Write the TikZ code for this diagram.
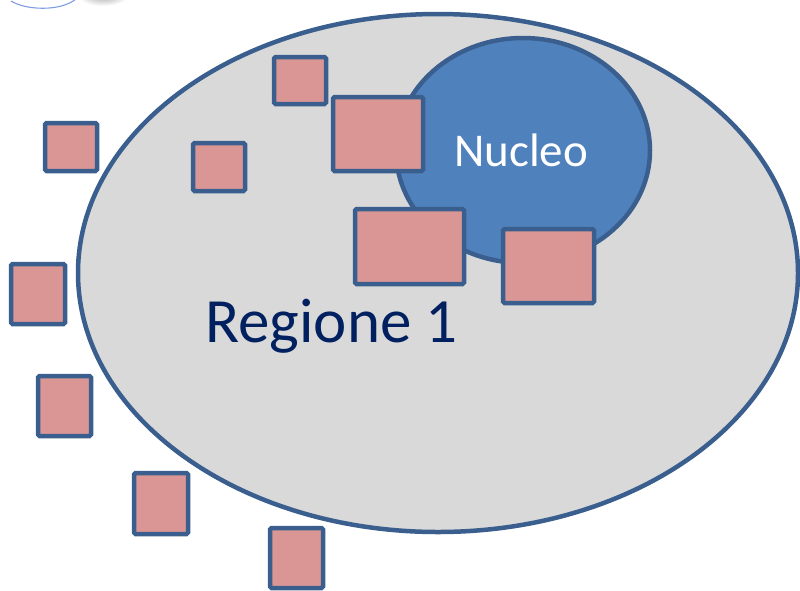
\documentclass[tikz,border=0pt]{standalone}
\usepackage{fontspec}
\setmainfont{Carlito}
\usetikzlibrary{shapes.geometric}
\definecolor{edgeblue}{HTML}{3A5F8E}
\definecolor{cellgray}{HTML}{D9D9D9}
\definecolor{nucblue}{HTML}{4F81BD}
\definecolor{sqred}{HTML}{D99694}
\definecolor{navy}{HTML}{002060}
\definecolor{arcblue}{HTML}{7F9CE0}
\tikzset{
  sq/.style={draw=edgeblue, fill=sqred, line width=4.5pt, rounded corners=1.5pt},
  blob/.style={ellipse, draw=edgeblue, line width=4.5pt, inner sep=0pt},
}
\begin{document}
\begin{tikzpicture}[x=1pt,y=-1pt]
\useasboundingbox (0,0) rectangle (800,590);
% artefacts at top-left
\begin{scope}
\clip (0,0) rectangle (800,590);
\shade[inner color=gray!70, outer color=white] (103,-5) ellipse [x radius=26, y radius=11];
\draw[arcblue, line width=1.1pt] (11,1) .. controls (25,10) and (60,12) .. (76,-1);
\end{scope}
% cell
\node[blob, fill=cellgray, minimum width=720pt, minimum height=518pt] (cell) at (438,273) {};
% nucleus
\node[blob, fill=nucblue, minimum width=254pt, minimum height=225pt] (nuc) at (523,150.5) {};
% squares
\draw[sq] (274,57) rectangle (326,104);
\draw[sq] (333,97) rectangle (423,171);
\draw[sq] (355,209) rectangle (464,284);
\draw[sq] (503,229) rectangle (594,303);
\draw[sq] (45,123) rectangle (97,171);
\draw[sq] (193,143) rectangle (245,191);
\draw[sq] (11,264) rectangle (65,324);
\draw[sq] (38,376) rectangle (91,436);
\draw[sq] (134,473) rectangle (188,534);
\draw[sq] (270,528) rectangle (323,588);
% labels
\node[anchor=base west, inner sep=0pt, text=white, font=\fontsize{47}{52}\selectfont] (nuclab) at (454,166) {Nucleo};
\node[anchor=base west, inner sep=0pt, text=navy, font=\fontsize{63}{70}\selectfont] (reglab) at (205,342) {Regione 1};
\end{tikzpicture}
\end{document}
